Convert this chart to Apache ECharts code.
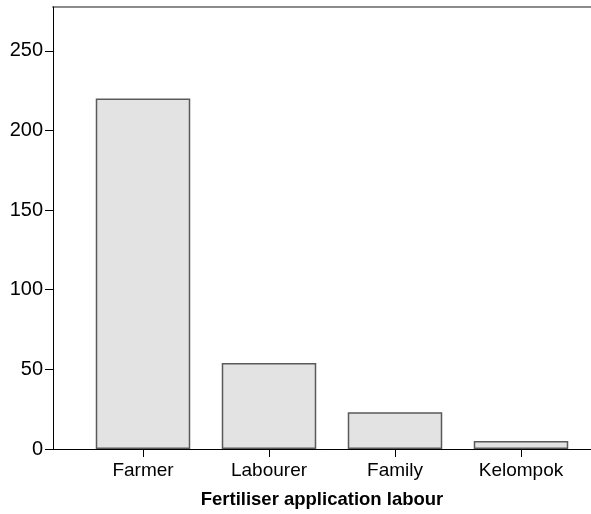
<!DOCTYPE html>
<html>
<head>
<meta charset="utf-8">
<script src="https://cdn.jsdelivr.net/npm/echarts@6/dist/echarts.min.js"></script>
<style>
html, body { margin: 0; padding: 0; background: #fff; }
#main { width: 591px; height: 514px; }
</style>
</head>
<body>
<div id="main"></div>
<script>
var categories = ['Farmer', 'Labourer', 'Family', 'Kelompok'];
var counts = [220, 54, 23, 5];
var yTicks = [0, 50, 100, 150, 200, 250];
var yMax = 277.5;

var font = '"Liberation Sans", Arial, sans-serif';

var chart = echarts.init(document.getElementById('main'));

var option = {
	backgroundColor: '#fff',
	animation: false,
	grid: [
		// frame grid: axis lines, y labels, top border
		{left: 53, right: 0, top: 7, bottom: 65},
		// bar grid
		{left: 80, right: 7, top: 7, bottom: 65}
	],
	xAxis: [
		{
			type: 'value', gridIndex: 0, min: 0, max: 1,
			axisLine: {show: true, lineStyle: {color: '#000', width: 1}},
			axisTick: {show: false}, axisLabel: {show: false}, splitLine: {show: false},
			name: 'Fertiliser application labour',
			nameLocation: 'middle',
			nameGap: 41,
			nameTextStyle: {fontFamily: font, fontSize: 18.5, fontWeight: 'bold', color: '#000'}
		},
		{
			type: 'category', gridIndex: 1, data: categories,
			axisLine: {show: false},
			axisTick: {show: true, alignWithLabel: true, length: 8, lineStyle: {color: '#000'}},
			axisLabel: {margin: 12, fontFamily: font, fontSize: 19, color: '#000'},
			splitLine: {show: false}
		},
		{
			// top frame line
			type: 'value', gridIndex: 0, position: 'top', min: 0, max: 1,
			axisLine: {show: true, lineStyle: {color: '#8c8c8c', width: 2}},
			axisTick: {show: false}, axisLabel: {show: false}, splitLine: {show: false}
		}
	],
	yAxis: [
		{
			type: 'value', gridIndex: 0, min: 0, max: yMax,
			axisLine: {show: true, lineStyle: {color: '#000', width: 1}},
			axisTick: {show: true, length: 8, lineStyle: {color: '#000'}, customValues: yTicks},
			axisLabel: {margin: 10, fontFamily: font, fontSize: 20, color: '#000', customValues: yTicks},
			splitLine: {show: false},
			z: 3
		},
		{
			type: 'value', gridIndex: 1, min: 0, max: yMax, show: false
		}
	],
	series: [
		{
			type: 'bar',
			xAxisIndex: 1,
			yAxisIndex: 1,
			data: counts,
			barCategoryGap: '25%',
			itemStyle: {color: '#e3e3e3', borderColor: '#5a5a5a', borderWidth: 1.5}
		}
	]
};

chart.setOption(option);
</script>
</body>
</html>
